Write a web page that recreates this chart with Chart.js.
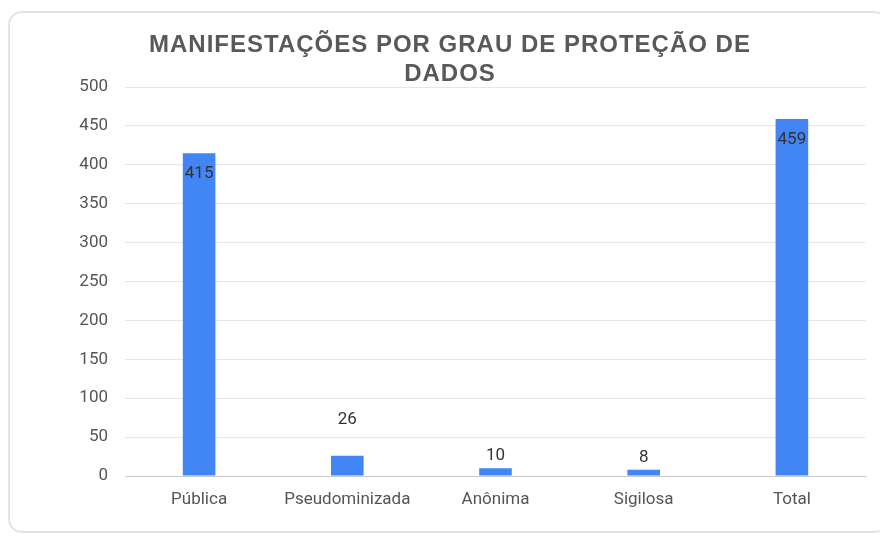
<!DOCTYPE html>
<html>
<head>
<meta charset="utf-8">
<script src="https://cdn.jsdelivr.net/npm/chart.js@4"></script>
<style>
  html, body { margin: 0; padding: 0; background: #fff; overflow: hidden; }
  #wrap { position: relative; width: 880px; height: 537px; }
  #frame {
    position: absolute; left: 8px; top: 11px; width: 880px; height: 522px;
    border: 2px solid #e3e3e3; border-radius: 14px; box-sizing: border-box;
  }
  #title {
    position: absolute; left: 0; top: 29px; width: 900px; text-align: center;
    font: bold 24px "Liberation Sans", Arial, sans-serif;
    color: #595959; letter-spacing: 1px; line-height: 29px;
  }
  canvas { position: absolute; left: 0; top: 0; }
</style>
</head>
<body>
<div id="wrap">
  <div id="frame"></div>
  <canvas id="chart" width="880" height="537"></canvas>
  <div id="title">MANIFESTAÇÕES POR GRAU DE PROTEÇÃO DE<br>DADOS</div>
</div>
<script>
const categories = ['Pública', 'Pseudominizada', 'Anônima', 'Sigilosa', 'Total'];
const values = [415, 26, 10, 8, 459];
const yTicks = [0, 50, 100, 150, 200, 250, 300, 350, 400, 450, 500];

const ctx = document.getElementById('chart').getContext('2d');

// value labels: big bars inside top, small bars above
const valueLabels = {
  id: 'valueLabels',
  afterDatasetsDraw(chart) {
    const meta = chart.getDatasetMeta(0);
    const c = chart.ctx;
    c.save();
    c.font = '17px Roboto, "Liberation Sans", Arial, sans-serif';
    c.fillStyle = '#333';
    c.textAlign = 'center';
    c.textBaseline = 'middle';
    meta.data.forEach((bar, i) => {
      const v = values[i];
      let y;
      if (v > 100) y = bar.y + 21;
      else if (v > 20) y = bar.y - 36;
      else y = bar.y - 12;
      c.fillText(String(v), bar.x, y);
    });
    c.restore();
  }
};

new Chart(ctx, {
  type: 'bar',
  data: {
    labels: categories,
    datasets: [{
      data: values,
      backgroundColor: '#4285f4',
      barPercentage: 0.22,
      categoryPercentage: 1.0
    }]
  },
  options: {
    responsive: false,
    animation: false,
    layout: { padding: { left: 0, right: 14, top: 87, bottom: 0 } },
    plugins: {
      legend: { display: false },
      title: { display: false },
      tooltip: { enabled: false }
    },
    scales: {
      x: {
        grid: { display: false, drawTicks: false },
        border: { color: '#c8c8c8', width: 1 },
        ticks: {
          color: '#555',
          padding: 14,
          font: { size: 17, family: 'Roboto, "Liberation Sans", Arial, sans-serif' }
        },
        afterFit: s => { s.height = 61; }
      },
      y: {
        min: 0,
        max: 500,
        afterBuildTicks: s => { s.ticks = yTicks.map(v => ({ value: v })); },
        grid: { color: '#e6e6e6', drawTicks: false },
        border: { display: false },
        ticks: {
          color: '#555',
          padding: 17,
          font: { size: 17, family: 'Roboto, "Liberation Sans", Arial, sans-serif' }
        },
        afterFit: s => { s.width = 125; }
      }
    }
  },
  plugins: [valueLabels]
});
</script>
</body>
</html>
